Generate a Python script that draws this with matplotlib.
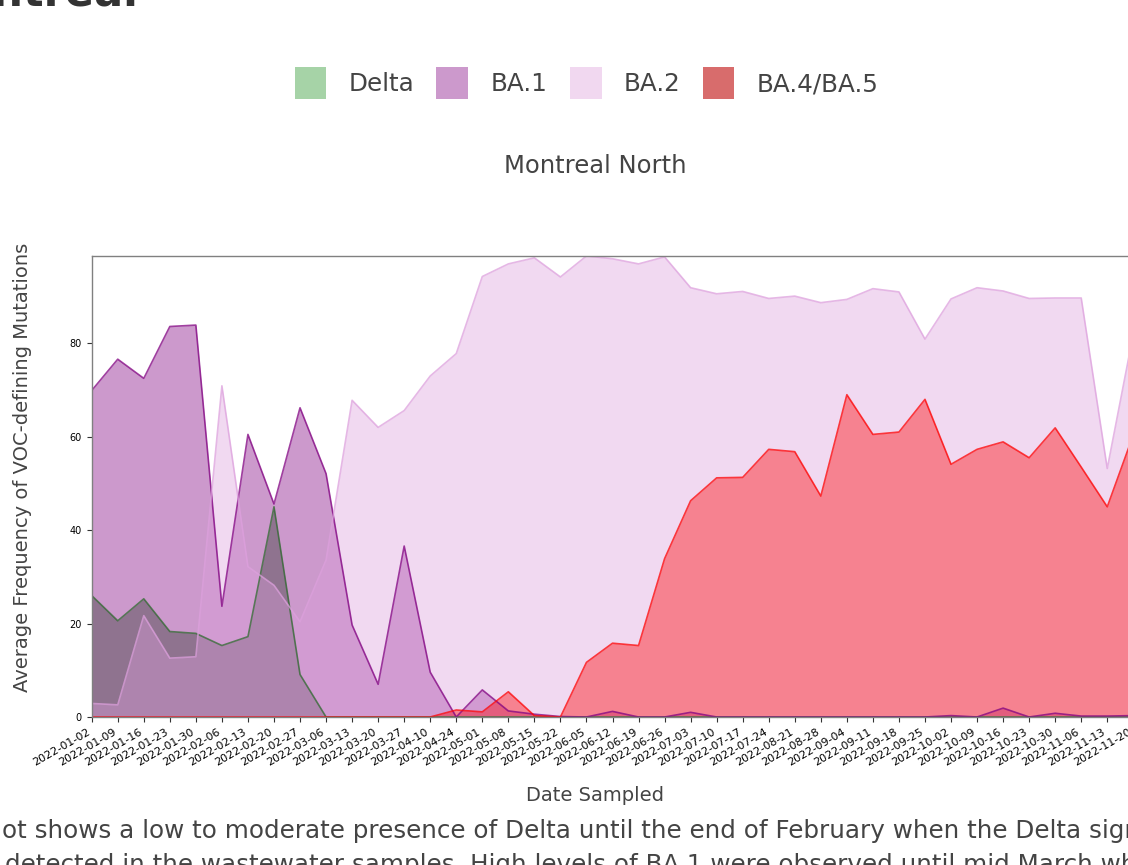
import numpy as np
import matplotlib.pyplot as plt
from matplotlib.patches import Patch

dates = ["2022-01-02", "2022-01-09", "2022-01-16", "2022-01-23", "2022-01-30",
         "2022-02-06", "2022-02-13", "2022-02-20", "2022-02-27", "2022-03-06",
         "2022-03-13", "2022-03-20", "2022-03-27", "2022-04-10", "2022-04-24",
         "2022-05-01", "2022-05-08", "2022-05-15", "2022-05-22", "2022-06-05",
         "2022-06-12", "2022-06-19", "2022-06-26", "2022-07-03", "2022-07-10",
         "2022-07-17", "2022-07-24", "2022-08-21", "2022-08-28", "2022-09-04",
         "2022-09-11", "2022-09-18", "2022-09-25", "2022-10-02", "2022-10-09",
         "2022-10-16", "2022-10-23", "2022-10-30", "2022-11-06", "2022-11-13",
         "2022-11-20"]

delta = [26.0, 20.6, 25.3, 18.3, 17.9, 15.3, 17.2, 45.0, 9.1, 0, 0, 0, 0, 0, 0,
         0, 0, 0, 0, 0, 0, 0, 0, 0, 0, 0, 0, 0, 0, 0, 0, 0, 0, 0, 0, 0, 0, 0, 0,
         0, 0]
ba1 = [69.9, 76.6, 72.5, 83.6, 83.9, 23.7, 60.5, 45.6, 66.2, 52.1, 19.7, 7.0,
       36.6, 9.6, 0, 5.8, 1.3, 0.6, 0.1, 0, 1.2, 0, 0, 1.0, 0, 0, 0, 0, 0, 0,
       0, 0, 0, 0.3, 0, 1.9, 0, 0.8, 0.2, 0.2, 0.3]
ba2 = [2.9, 2.6, 21.7, 12.6, 12.9, 70.9, 32.2, 28.2, 20.4, 33.6, 67.8, 62.0,
       65.6, 73.0, 77.8, 94.3, 97.0, 98.3, 94.2, 98.7, 98.1, 97.0, 98.5, 91.9,
       90.6, 91.1, 89.6, 90.1, 88.7, 89.4, 91.7, 91.0, 80.9, 89.5, 91.9, 91.2,
       89.6, 89.7, 89.7, 53.2, 82.0]
ba45 = [0, 0, 0, 0, 0, 0, 0, 0, 0, 0, 0, 0, 0, 0, 1.5, 1.1, 5.4, 0.3, 0, 11.7,
        15.8, 15.3, 33.9, 46.3, 51.2, 51.3, 57.3, 56.8, 47.3, 69.0, 60.5, 61.0,
        68.0, 54.1, 57.3, 58.9, 55.5, 61.9, 53.5, 45.0, 60.4]

variants = ["Delta", "BA.1", "BA.2", "BA.4/BA.5"]
series = [delta, ba1, ba2, ba45]
fill_colors = ["darkgreen", "purple", "plum", "red"]
line_colors = ["#2f6a2f", "purple", "plum", "red"]
legend_colors = ["#a6d3a7", "#cc99cc", "#f1d8f0", "#d86c6c"]

text_color = "#444444"

fig = plt.figure(figsize=(11.28, 8.65), dpi=100)
ax = fig.add_axes([0.0813, 0.1711, 0.9234, 0.533])

x = np.arange(len(dates))
# fills first, then the outlines on top
for vals, c in zip(series, fill_colors):
    ax.fill_between(x, vals, color=c, alpha=0.4, linewidth=0)
for vals, c in zip(series, line_colors):
    ax.plot(x, vals, color=c, linewidth=1.2, alpha=0.75)

ax.set_xlim(0, len(dates) - 1)
ax.set_ylim(0, max(max(s) for s in series))

ax.set_xticks(x)
ax.set_xticklabels(dates, rotation=30, ha="right", fontsize=8)
ax.set_yticks([0, 20, 40, 60, 80])
ax.tick_params(axis="y", labelsize=7)
ax.tick_params(length=3.5, color="#333333")
for sp in ax.spines.values():
    sp.set_color("#808080")
    sp.set_linewidth(1)

ax.set_xlabel("Date Sampled", fontsize=14, color=text_color)
ax.xaxis.set_label_coords(0.483, -0.150)
ax.set_ylabel("Average Frequency of VOC-defining Mutations", fontsize=14, color=text_color)
ax.yaxis.set_label_coords(-0.0574, 0.541)

fig.text(595 / 1128, 1 - 166 / 865, "Montreal North", fontsize=17.5,
         color=text_color, ha="center", va="center")

handles = [Patch(facecolor=c, edgecolor="none") for c in legend_colors]
fig.legend(handles, variants, loc="center", bbox_to_anchor=(586.5 / 1128, 1 - 83 / 865),
           ncol=4, frameon=False, fontsize=17.7, labelcolor=text_color,
           handlelength=1.3, handleheight=1.6, handletextpad=0.9,
           columnspacing=0.9)

# page title and caption, partly outside the crop
fig.text(138 / 1128, 1 - 6 / 865, "Montreal", fontsize=31, fontweight="bold",
         color="#333333", ha="right", va="baseline")
fig.text(2 / 1128, 1 - 838 / 865,
         "ot shows a low to moderate presence of Delta until the end of February when the Delta signal",
         fontsize=17.7, color=text_color, ha="left", va="baseline")
fig.text(5 / 1128, 1 - 872 / 865,
         "detected in the wastewater samples. High levels of BA.1 were observed until mid March when",
         fontsize=17.7, color=text_color, ha="left", va="baseline")

fig.savefig("out.png", dpi=100)
